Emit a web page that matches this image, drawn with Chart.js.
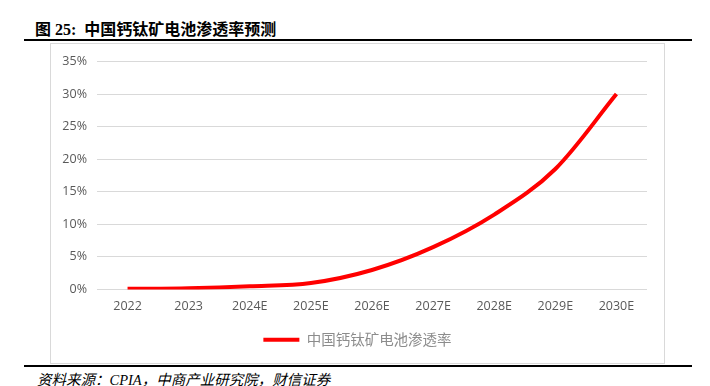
<!DOCTYPE html>
<html>
<head>
<meta charset="utf-8">
<script src="https://cdn.jsdelivr.net/npm/chart.js@4/dist/chart.umd.min.js"></script>
<style>
  body { margin: 0; background: #fff; width: 710px; height: 386px; position: relative; overflow: hidden; }
  #titulo { position: absolute; left: 35px; top: 16px; font: bold 16px "Liberation Serif", "Noto Sans CJK SC", serif; color: #000; white-space: nowrap; }
  .regla { position: absolute; left: 24px; width: 668px; height: 2px; background: #000; }
  #marco { position: absolute; left: 50px; top: 43px; width: 613px; height: 319px; border: 1px solid #d9d9d9; }
  #fuente { position: absolute; left: 37px; top: 372px; line-height: 16px; font: italic 14.5px/16px "Liberation Serif", "Noto Sans CJK SC", serif; color: #000; white-space: nowrap; }
</style>
</head>
<body>
<div id="titulo">图 25:&nbsp; 中国钙钛矿电池渗透率预测</div>
<div class="regla" style="top:39px"></div>
<div id="marco"><canvas id="grafico" width="613" height="319"></canvas></div>
<div class="regla" style="top:365px"></div>
<div id="fuente">资料来源：CPIA，中商产业研究院，财信证券</div>
<script>
// datos
const anios = ['2022', '2023', '2024E', '2025E', '2026E', '2027E', '2028E', '2029E', '2030E'];
const penetracion = [0.1, 0.2, 0.5, 1.0, 3.0, 6.5, 11.5, 18.5, 30.0];
const nombreSerie = '中国钙钛矿电池渗透率';
const ticksY = [0, 5, 10, 15, 20, 25, 30, 35];

const ctx = document.getElementById('grafico').getContext('2d');

new Chart(ctx, {
    type: 'line',
    data: {
        labels: anios,
        datasets: [{
            label: nombreSerie,
            data: penetracion,
            borderColor: '#ff0000',
            backgroundColor: '#ff0000',
            borderWidth: 4,
            pointRadius: 0,
            pointStyle: 'line',
            cubicInterpolationMode: 'monotone',
            fill: false
        }]
    },
    options: {
        responsive: false,
        animation: false,
        layout: {
            padding: { left: 0, right: 0, top: 17, bottom: 6 }
        },
        plugins: {
            legend: {
                display: true,
                position: 'bottom',
                labels: {
                    usePointStyle: true,
                    pointStyle: 'line',
                    pointStyleWidth: 36,
                    color: '#8c8c8c',
                    font: { family: '"Noto Sans CJK SC", sans-serif', size: 14.5 },
                    padding: 10
                }
            },
            title: { display: false },
            tooltip: { enabled: false }
        },
        scales: {
            x: {
                offset: true,
                grid: { display: false, drawTicks: false },
                border: { display: false },
                ticks: {
                    color: '#595959',
                    font: { family: '"Open Sans", sans-serif', size: 12.5 },
                    padding: 9,
                    maxRotation: 0
                },
                afterFit: function (scale) { scale.height = 33; }
            },
            y: {
                min: 0,
                max: 35,
                afterBuildTicks: function (scale) {
                    scale.ticks = ticksY.map(v => ({ value: v }));
                },
                grid: { color: '#d9d9d9', lineWidth: 1, drawTicks: false },
                border: { display: false },
                ticks: {
                    color: '#595959',
                    font: { family: '"Open Sans", sans-serif', size: 12.5 },
                    padding: 10,
                    callback: function (v) { return v + '%'; }
                },
                afterFit: function (scale) { scale.width = 46; }
            },
            // eje vacio para dejar el margen derecho sin mover la leyenda
            derecha: {
                position: 'right',
                min: 0,
                max: 35,
                grid: { display: false, drawTicks: false },
                border: { display: false },
                ticks: { display: false },
                afterFit: function (scale) { scale.width = 17; }
            }
        }
    }
});
</script>
</body>
</html>
